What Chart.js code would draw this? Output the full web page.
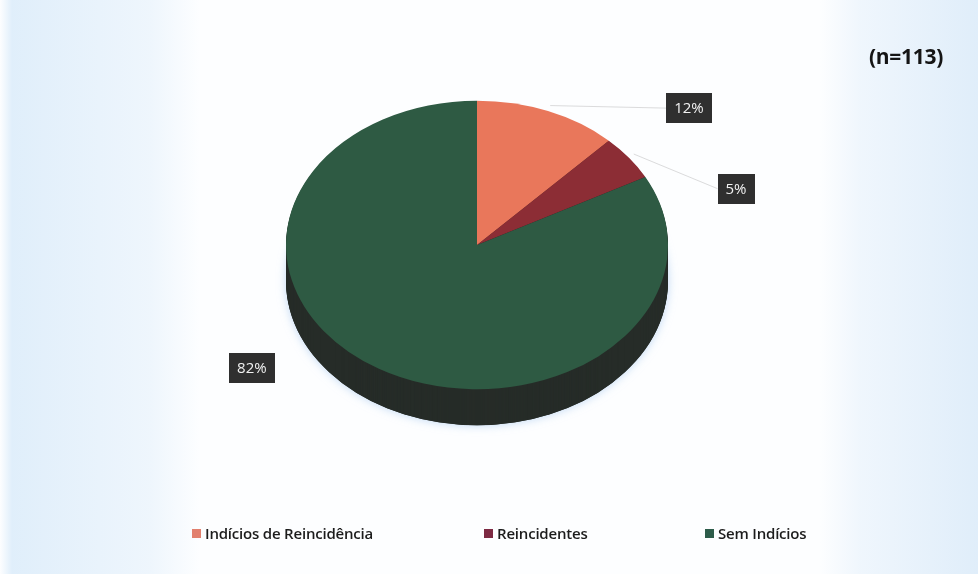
<!DOCTYPE html>
<html>
<head>
<meta charset="utf-8">
<script src="https://cdn.jsdelivr.net/npm/chart.js@4.4.1/dist/chart.umd.min.js"></script>
<style>
  html, body { margin: 0; padding: 0; }
  body {
    width: 978px;
    height: 574px;
    overflow: hidden;
    position: relative;
    font-family: "Open Sans", sans-serif;
    background:
      linear-gradient(90deg,
        rgba(255,255,255,0) 0px,
        rgba(214,233,249,0.75) 12px,
        rgba(226,239,251,0.55) 150px,
        rgba(255,255,255,0) 200px,
        rgba(255,255,255,0) 820px,
        rgba(228,240,251,0.55) 860px,
        rgba(214,232,248,0.75) 978px),
      #fdfeff;
  }
  #grafico { position: absolute; left: 0; top: 0; }
  #amostra {
    position: absolute;
    left: 869px;
    top: 42px;
    font: 700 21px "Open Sans", sans-serif;
    color: #151515;
    letter-spacing: -0.3px;
  }
  #legenda .item {
    position: absolute;
    top: 523px;
    font: 600 15px "Open Sans", sans-serif;
    color: #1c1c1c;
    white-space: nowrap;
    line-height: 20px;
    letter-spacing: -0.2px;
  }
  #legenda .item i {
    display: inline-block;
    width: 9px;
    height: 9px;
    margin-right: 4px;
    vertical-align: 1px;
  }
  #legenda .item:nth-child(1) { left: 192px; }
  #legenda .item:nth-child(2) { left: 484px; }
  #legenda .item:nth-child(3) { left: 705px; }
</style>
</head>
<body>

<canvas id="grafico" width="978" height="574"></canvas>
<div id="amostra"></div>
<div id="legenda"></div>

<script>
/* ==========================================
   Dados
   ========================================== */

const categorias = ["Indícios de Reincidência", "Reincidentes", "Sem Indícios"];
const percentuais = [12, 5, 82];
const amostra = "(n=113)";

// cores do topo, da lateral e da legenda
const cores = ["#e9775b", "#8c2d35", "#2e5a43"];
const coresLateral = ["#5a2e25", "#35181b", "#262c28"];
const coresLegenda = ["#e2806e", "#7d2a43", "#2d5c4a"];

// inclinação da pizza e altura da lateral
const INCLINACAO = 0.755;
const PROFUNDIDADE = 36;

// deslocamento de cada rótulo em relação à borda da fatia
const deslocRotulos = [[141, -3], [107, 31], [-127, -1]];


/* ==========================================
   Pizza "3D": lateral + topo achatado
   ========================================== */

const pizza3d = {
    id: "pizza3d",

    beforeDatasetsDraw(chart) {
        const ctx = chart.ctx;
        const arcos = chart.getDatasetMeta(0).data;
        if (!arcos.length) return;

        const cx = arcos[0].x;
        const cy = arcos[0].y;
        const r = arcos[0].outerRadius;

        // halo claro debaixo da pizza
        ctx.save();
        ctx.shadowColor = "rgba(150,190,235,0.6)";
        ctx.shadowBlur = 10;
        ctx.beginPath();
        ctx.ellipse(cx, cy + PROFUNDIDADE, r, r * INCLINACAO, 0, 0, Math.PI * 2);
        ctx.fillStyle = coresLateral[2];
        ctx.fill();
        ctx.restore();

        // lateral: fatias empilhadas de baixo para cima
        for (let d = PROFUNDIDADE; d > 0; d--) {
            arcos.forEach((arco, i) => {
                ctx.beginPath();
                ctx.moveTo(cx, cy + d);
                ctx.ellipse(cx, cy + d, r, r * INCLINACAO, 0, arco.startAngle, arco.endAngle);
                ctx.closePath();
                ctx.fillStyle = coresLateral[i];
                ctx.fill();
            });
        }

        // achata o topo
        ctx.save();
        ctx.translate(cx, cy);
        ctx.scale(1, INCLINACAO);
        ctx.translate(-cx, -cy);
    },

    afterDatasetsDraw(chart) {
        chart.ctx.restore();
    }
};


/* ==========================================
   Rótulos de porcentagem
   ========================================== */

const rotulos = {
    id: "rotulos",

    afterDraw(chart) {
        const ctx = chart.ctx;
        const arcos = chart.getDatasetMeta(0).data;

        ctx.save();
        ctx.font = "15px 'Open Sans', sans-serif";
        ctx.textAlign = "center";
        ctx.textBaseline = "middle";

        arcos.forEach((arco, i) => {
            const meio = (arco.startAngle + arco.endAngle) / 2;
            const r = arco.outerRadius;
            const ax = arco.x + r * Math.cos(meio);
            const ay = arco.y + r * INCLINACAO * Math.sin(meio);

            const lx = ax + deslocRotulos[i][0];
            const ly = ay + deslocRotulos[i][1];

            const texto = percentuais[i] + "%";
            const w = ctx.measureText(texto).width + 16;
            const h = 30;

            // linha guia
            if (i < 2) {
                ctx.strokeStyle = "rgba(185,185,185,0.5)";
                ctx.lineWidth = 1;
                ctx.beginPath();
                ctx.moveTo(ax + 6 * Math.cos(meio), ay + 6 * Math.sin(meio));
                ctx.lineTo(lx - w / 2, ly);
                ctx.stroke();
            }

            ctx.fillStyle = "#2f2f2f";
            ctx.fillRect(Math.round(lx - w / 2), Math.round(ly - h / 2), Math.round(w), h);

            ctx.fillStyle = "#f2f2f2";
            ctx.fillText(texto, lx, ly + 1);
        });

        ctx.restore();
    }
};


/* ==========================================
   Gráfico
   ========================================== */

document.getElementById("amostra").textContent = amostra;

const legenda = document.getElementById("legenda");
categorias.forEach((nome, i) => {
    const item = document.createElement("div");
    item.className = "item";
    item.innerHTML = '<i style="background:' + coresLegenda[i] + '"></i>' + nome;
    legenda.appendChild(item);
});

new Chart(document.getElementById("grafico"), {

    type: "pie",

    data: {
        labels: categorias,
        datasets: [{
            data: percentuais,
            backgroundColor: cores,
            borderWidth: 0
        }]
    },

    options: {
        responsive: false,
        animation: false,
        devicePixelRatio: 1,
        radius: 191,
        layout: {
            padding: { top: 0, right: 24, bottom: 84, left: 0 }
        },
        plugins: {
            legend: { display: false },
            tooltip: { enabled: false }
        }
    },

    plugins: [pizza3d, rotulos]

});
</script>

</body>
</html>
